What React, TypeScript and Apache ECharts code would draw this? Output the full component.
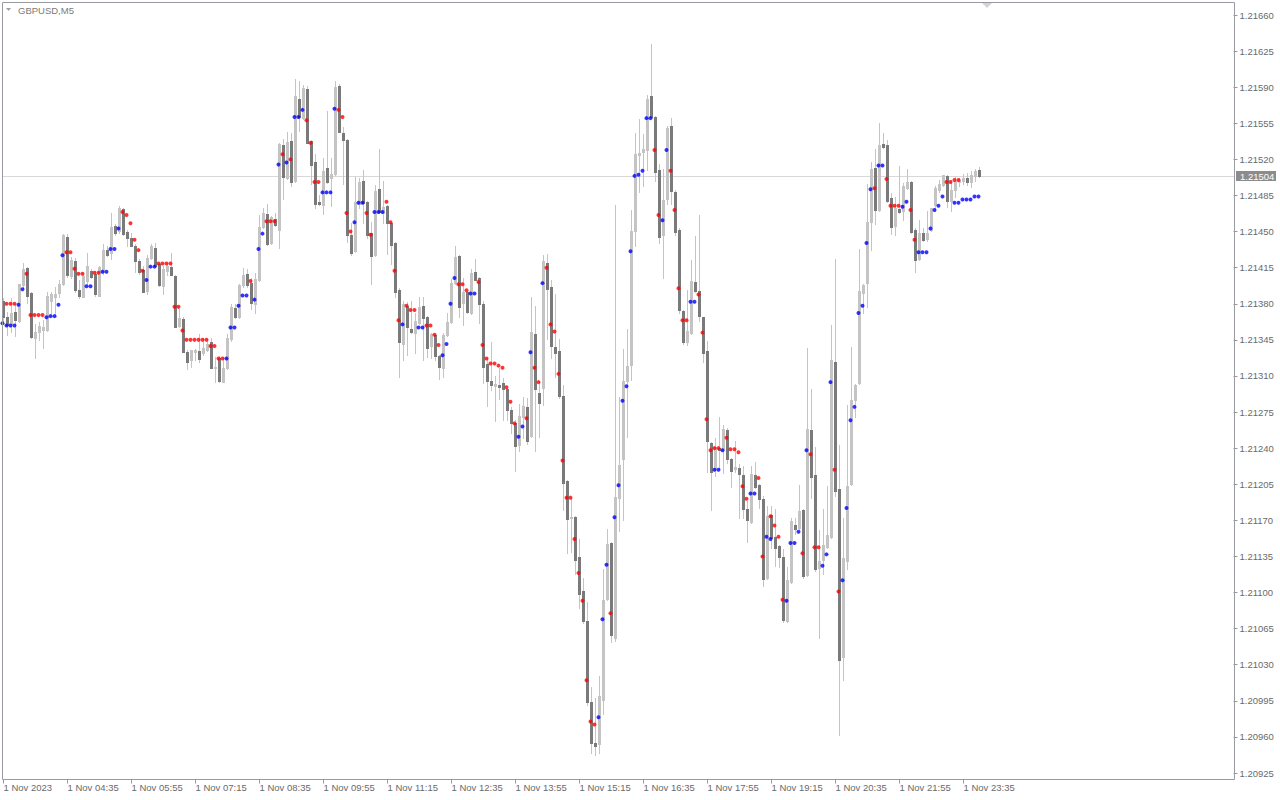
import React, { useEffect, useRef } from "react";
import * as echarts from "echarts";

const _ = null;
const symbolTitle = "GBPUSD,M5";
const timeLabels = ["1 Nov 2023", "1 Nov 04:35", "1 Nov 05:55", "1 Nov 07:15", "1 Nov 08:35", "1 Nov 09:55", "1 Nov 11:15", "1 Nov 12:35", "1 Nov 13:55", "1 Nov 15:15", "1 Nov 16:35", "1 Nov 17:55", "1 Nov 19:15", "1 Nov 20:35", "1 Nov 21:55", "1 Nov 23:35"];
const barsPerLabel = 16;
const priceMin = 1.20925;
const priceMax = 1.2166;
const priceStep = 0.00035;

const opens = [
1.21383,1.21367,1.21360,1.21372,1.21363,1.21398,1.21415,1.21390,1.21347,1.21353,
1.21355,1.21355,1.21383,1.21387,1.21390,1.21399,1.21445,1.21407,1.21421,1.21393,
1.21387,1.21402,1.21412,1.21409,1.21388,1.21411,1.21432,1.21429,1.21455,1.21451,
1.21472,1.21450,1.21444,1.21436,1.21421,1.21413,1.21392,1.21424,1.21434,1.21419,
1.21397,1.21412,1.21416,1.21407,1.21358,1.21365,1.21333,1.21325,1.21333,1.21334,
1.21332,1.21335,1.21343,1.21318,1.21327,1.21304,1.21318,1.21346,1.21376,1.21367,
1.21398,1.21409,1.21400,1.21380,1.21403,1.21454,1.21467,1.21439,1.21462,1.21452,
1.21534,1.21502,1.21538,1.21499,1.21579,1.21560,1.21588,1.21538,1.21517,1.21479,
1.21476,1.21512,1.21502,1.21506,1.21591,1.21546,1.21539,1.21447,1.21431,1.21477,
1.21499,1.21479,1.21449,1.21427,1.21491,1.21468,1.21475,1.21458,1.21439,1.21393,
1.21341,1.21378,1.21356,1.21352,1.21361,1.21378,1.21367,1.21339,1.21350,1.21329,
1.21318,1.21350,1.21362,1.21400,1.21426,1.21381,1.21391,1.21371,1.21411,1.21405,
1.21380,1.21322,1.21305,1.21300,1.21301,1.21303,1.21297,1.21277,1.21264,1.21243,
1.21270,1.21280,1.21252,1.21351,1.21293,1.21298,1.21420,1.21396,1.21338,1.21334,
1.21291,1.21208,1.21172,1.21173,1.21134,1.21101,1.21072,1.20994,1.20954,1.20953,
1.20996,1.21094,1.21148,1.21056,1.21192,1.21229,1.21305,1.21321,1.21451,1.21524,
1.21527,1.21529,1.21581,1.21561,1.21510,1.21447,1.21482,1.21552,1.21488,1.21452,
1.21373,1.21343,1.21352,1.21401,1.21392,1.21367,1.21334,1.21245,1.21220,1.21240,
1.21238,1.21258,1.21229,1.21220,1.21221,1.21214,1.21181,1.21168,1.21214,1.21204,
1.21191,1.21114,1.21175,1.21154,1.21145,1.21134,1.21072,1.21110,1.21165,1.21163,
1.21180,1.21117,1.21258,1.21214,1.21124,1.21132,1.21144,1.21154,1.21324,1.21200,
1.21037,1.21131,1.21205,1.21287,1.21303,1.21390,1.21400,1.21459,1.21512,1.21471,
1.21535,1.21534,1.21483,1.21455,1.21472,1.21470,1.21492,1.21498,1.21452,1.21423,
1.21449,1.21443,1.21452,1.21476,1.21490,1.21495,1.21504,1.21480,1.21490,1.21498,
1.21499,1.21502,1.21498,1.21504,1.21510];

const highs = [
1.21386,1.21372,1.21386,1.21380,1.21399,1.21420,1.21416,1.21391,1.21360,1.21362,
1.21364,1.21391,1.21391,1.21396,1.21403,1.21448,1.21448,1.21425,1.21424,1.21403,
1.21410,1.21429,1.21414,1.21412,1.21417,1.21438,1.21436,1.21468,1.21457,1.21475,
1.21473,1.21452,1.21449,1.21438,1.21423,1.21417,1.21427,1.21438,1.21439,1.21420,
1.21417,1.21420,1.21429,1.21408,1.21375,1.21367,1.21335,1.21335,1.21336,1.21351,
1.21347,1.21346,1.21347,1.21328,1.21329,1.21328,1.21351,1.21380,1.21380,1.21399,
1.21415,1.21414,1.21405,1.21410,1.21466,1.21473,1.21477,1.21465,1.21468,1.21536,
1.21540,1.21547,1.21546,1.21598,1.21596,1.21592,1.21591,1.21539,1.21525,1.21485,
1.21521,1.21567,1.21521,1.21596,1.21593,1.21551,1.21540,1.21458,1.21503,1.21502,
1.21510,1.21480,1.21459,1.21495,1.21530,1.21499,1.21476,1.21459,1.21440,1.21395,
1.21383,1.21382,1.21383,1.21371,1.21387,1.21387,1.21368,1.21352,1.21351,1.21330,
1.21352,1.21371,1.21404,1.21436,1.21427,1.21405,1.21392,1.21414,1.21423,1.21406,
1.21383,1.21327,1.21343,1.21310,1.21318,1.21308,1.21298,1.21280,1.21267,1.21283,
1.21290,1.21289,1.21387,1.21378,1.21305,1.21427,1.21428,1.21403,1.21389,1.21346,
1.21301,1.21209,1.21192,1.21174,1.21152,1.21114,1.21091,1.21008,1.20998,1.21019,
1.21123,1.21162,1.21149,1.21476,1.21290,1.21336,1.21356,1.21471,1.21546,1.21559,
1.21545,1.21582,1.21632,1.21562,1.21516,1.21511,1.21552,1.21560,1.21490,1.21453,
1.21374,1.21393,1.21422,1.21446,1.21466,1.21367,1.21344,1.21246,1.21250,1.21270,
1.21262,1.21260,1.21230,1.21247,1.21225,1.21223,1.21189,1.21223,1.21227,1.21205,
1.21194,1.21184,1.21184,1.21181,1.21146,1.21142,1.21125,1.21172,1.21172,1.21204,
1.21181,1.21337,1.21297,1.21241,1.21161,1.21181,1.21203,1.21359,1.21423,1.21243,
1.21172,1.21282,1.21338,1.21302,1.21433,1.21399,1.21496,1.21517,1.21530,1.21555,
1.21546,1.21539,1.21487,1.21484,1.21514,1.21497,1.21511,1.21499,1.21453,1.21461,
1.21453,1.21470,1.21473,1.21494,1.21500,1.21505,1.21505,1.21500,1.21503,1.21502,
1.21506,1.21507,1.21509,1.21511,1.21513];

const lows = [
1.21363,1.21350,1.21353,1.21349,1.21362,1.21395,1.21381,1.21347,1.21327,1.21345,
1.21337,1.21354,1.21368,1.21368,1.21387,1.21398,1.21406,1.21405,1.21391,1.21386,
1.21387,1.21399,1.21405,1.21388,1.21388,1.21409,1.21426,1.21423,1.21447,1.21449,
1.21447,1.21436,1.21436,1.21411,1.21409,1.21391,1.21389,1.21423,1.21416,1.21397,
1.21389,1.21408,1.21408,1.21357,1.21357,1.21333,1.21317,1.21319,1.21325,1.21324,
1.21330,1.21334,1.21318,1.21304,1.21304,1.21304,1.21317,1.21344,1.21366,1.21366,
1.21396,1.21396,1.21375,1.21371,1.21402,1.21453,1.21437,1.21438,1.21455,1.21434,
1.21482,1.21501,1.21494,1.21498,1.21548,1.21559,1.21536,1.21496,1.21473,1.21476,
1.21467,1.21497,1.21475,1.21505,1.21547,1.21496,1.21440,1.21427,1.21430,1.21473,
1.21458,1.21444,1.21399,1.21426,1.21468,1.21458,1.21428,1.21419,1.21387,1.21309,
1.21325,1.21330,1.21352,1.21332,1.21360,1.21325,1.21328,1.21327,1.21325,1.21307,
1.21309,1.21349,1.21361,1.21399,1.21367,1.21359,1.21371,1.21370,1.21403,1.21361,
1.21303,1.21281,1.21296,1.21266,1.21288,1.21267,1.21267,1.21255,1.21218,1.21237,
1.21250,1.21244,1.21251,1.21237,1.21251,1.21282,1.21346,1.21327,1.21309,1.21289,
1.21180,1.21138,1.21139,1.21118,1.21085,1.21070,1.20991,1.20944,1.20942,1.20944,
1.20982,1.21093,1.21052,1.21053,1.21160,1.21170,1.21251,1.21306,1.21436,1.21488,
1.21494,1.21510,1.21560,1.21499,1.21439,1.21405,1.21477,1.21477,1.21447,1.21371,
1.21341,1.21340,1.21351,1.21391,1.21363,1.21324,1.21217,1.21180,1.21213,1.21220,
1.21216,1.21226,1.21202,1.21217,1.21172,1.21172,1.21149,1.21167,1.21201,1.21182,
1.21106,1.21113,1.21143,1.21126,1.21125,1.21071,1.21071,1.21109,1.21157,1.21162,
1.21114,1.21116,1.21192,1.21121,1.21056,1.21118,1.21143,1.21153,1.21194,1.20962,
1.21015,1.21123,1.21204,1.21270,1.21302,1.21371,1.21377,1.21432,1.21457,1.21470,
1.21531,1.21479,1.21448,1.21447,1.21468,1.21461,1.21491,1.21449,1.21411,1.21422,
1.21441,1.21441,1.21451,1.21470,1.21488,1.21494,1.21474,1.21470,1.21484,1.21494,
1.21496,1.21495,1.21493,1.21499,1.21503];

const closes = [
1.21367,1.21359,1.21371,1.21364,1.21399,1.21414,1.21388,1.21348,1.21353,1.21358,
1.21357,1.21388,1.21389,1.21389,1.21399,1.21447,1.21408,1.21422,1.21393,1.21388,
1.21407,1.21417,1.21406,1.21389,1.21416,1.21432,1.21427,1.21454,1.21449,1.21473,
1.21448,1.21444,1.21436,1.21421,1.21411,1.21391,1.21424,1.21436,1.21417,1.21398,
1.21414,1.21417,1.21408,1.21357,1.21366,1.21333,1.21324,1.21335,1.21335,1.21326,
1.21337,1.21341,1.21318,1.21319,1.21305,1.21318,1.21347,1.21377,1.21367,1.21398,
1.21408,1.21398,1.21381,1.21404,1.21454,1.21468,1.21438,1.21464,1.21456,1.21535,
1.21503,1.21537,1.21498,1.21581,1.21561,1.21589,1.21536,1.21515,1.21477,1.21477,
1.21509,1.21498,1.21506,1.21590,1.21547,1.21539,1.21447,1.21429,1.21479,1.21498,
1.21478,1.21447,1.21426,1.21489,1.21469,1.21474,1.21458,1.21437,1.21391,1.21343,
1.21380,1.21357,1.21353,1.21363,1.21377,1.21366,1.21337,1.21351,1.21329,1.21319,
1.21350,1.21362,1.21400,1.21425,1.21377,1.21391,1.21372,1.21410,1.21403,1.21380,
1.21319,1.21305,1.21301,1.21302,1.21299,1.21297,1.21277,1.21264,1.21242,1.21271,
1.21281,1.21247,1.21353,1.21297,1.21284,1.21421,1.21394,1.21339,1.21332,1.21291,
1.21206,1.21171,1.21173,1.21132,1.21099,1.21072,1.20994,1.20954,1.20951,1.21000,
1.21093,1.21147,1.21059,1.21193,1.21224,1.21305,1.21320,1.21451,1.21525,1.21526,
1.21530,1.21579,1.21561,1.21508,1.21445,1.21481,1.21550,1.21489,1.21450,1.21374,
1.21343,1.21354,1.21402,1.21392,1.21368,1.21332,1.21247,1.21217,1.21241,1.21238,
1.21259,1.21229,1.21218,1.21222,1.21215,1.21181,1.21170,1.21215,1.21202,1.21191,
1.21113,1.21174,1.21153,1.21143,1.21134,1.21073,1.21112,1.21169,1.21162,1.21179,
1.21116,1.21259,1.21212,1.21123,1.21131,1.21146,1.21156,1.21325,1.21198,1.21035,
1.21133,1.21203,1.21287,1.21301,1.21392,1.21398,1.21459,1.21511,1.21471,1.21534,
1.21532,1.21480,1.21454,1.21473,1.21469,1.21494,1.21498,1.21450,1.21422,1.21449,
1.21442,1.21449,1.21473,1.21492,1.21496,1.21505,1.21480,1.21490,1.21499,1.21500,
1.21502,1.21498,1.21505,1.21509,1.21504];

const redDots = [
_,1.21380,1.21380,1.21380,_,_,1.21409,1.21369,1.21369,1.21369,
1.21369,_,_,_,_,_,1.21430,1.21430,1.21414,1.21409,
1.21409,_,_,1.21410,1.21410,_,_,_,_,_,
1.21469,1.21466,1.21458,1.21442,1.21432,1.21412,_,_,_,1.21419,
1.21419,1.21419,1.21419,1.21377,1.21377,1.21354,1.21345,1.21345,1.21345,1.21345,
1.21345,1.21345,1.21339,1.21339,1.21327,1.21327,_,_,_,_,
_,_,1.21402,_,_,_,1.21460,1.21460,1.21460,_,
1.21525,_,1.21520,_,_,_,1.21558,1.21536,1.21498,1.21498,
_,_,_,_,1.21568,1.21561,1.21468,1.21450,_,_,
_,1.21468,1.21447,_,_,_,1.21479,1.21459,1.21412,1.21364,
_,1.21378,1.21374,1.21374,_,_,1.21359,1.21359,1.21350,1.21340,
_,_,_,_,1.21399,1.21399,1.21393,_,_,1.21401,
1.21340,1.21327,1.21322,1.21322,1.21320,1.21318,1.21299,1.21285,1.21264,_,
_,1.21269,_,1.21318,1.21304,_,1.21415,1.21360,1.21353,1.21312,
1.21228,1.21192,1.21192,1.21152,1.21119,1.21092,1.21015,1.20975,1.20972,_,
_,_,1.21080,_,_,_,_,_,_,_,
_,_,_,1.21529,1.21466,_,_,1.21509,1.21471,1.21395,
1.21364,1.21364,_,_,1.21389,1.21352,1.21268,1.21238,1.21240,1.21240,
_,1.21250,1.21239,1.21239,1.21236,1.21203,1.21191,_,_,1.21211,
1.21135,_,1.21174,1.21165,1.21154,1.21093,_,_,_,_,
1.21138,_,1.21234,1.21144,1.21144,_,_,_,1.21219,1.21101,
_,_,_,_,_,_,_,_,1.21492,_,
_,1.21501,1.21475,1.21475,1.21475,_,_,1.21471,1.21442,_,
_,_,_,_,_,_,1.21498,1.21498,1.21500,1.21500,
_,_,_,_,_];

const blueDots = [
1.21361,1.21359,1.21359,1.21359,1.21379,1.21394,_,_,_,_,
_,1.21367,1.21368,1.21368,1.21379,1.21427,_,_,_,_,
_,1.21397,1.21397,_,_,1.21411,1.21411,1.21433,1.21433,1.21453,
_,_,_,_,_,_,1.21403,1.21416,1.21416,_,
_,_,_,_,_,_,_,_,_,_,
_,_,_,_,_,_,1.21327,1.21357,1.21357,1.21378,
1.21388,1.21388,_,1.21384,1.21433,1.21448,_,_,_,1.21515,
_,1.21517,_,1.21561,1.21561,1.21568,_,_,_,_,
1.21488,1.21488,1.21488,1.21569,_,_,_,_,1.21459,1.21478,
1.21478,_,_,1.21469,1.21469,1.21469,_,_,_,_,
1.21360,_,_,_,1.21357,1.21357,_,_,_,_,
1.21330,1.21341,1.21380,1.21405,_,_,_,1.21390,1.21390,_,
_,_,_,_,_,_,_,_,_,1.21251,
1.21261,_,1.21333,_,_,1.21400,_,_,_,_,
_,_,_,_,_,_,_,_,_,1.20979,
1.21074,1.21127,_,1.21173,1.21204,1.21286,1.21300,1.21431,1.21504,1.21505,
1.21509,1.21560,1.21560,_,_,1.21461,1.21529,_,_,_,
_,_,1.21382,1.21382,_,_,_,_,1.21219,1.21219,
1.21238,_,_,_,_,_,_,1.21196,1.21196,_,
_,1.21154,1.21152,_,_,_,1.21092,1.21148,1.21148,1.21159,
_,1.21238,_,_,_,1.21126,1.21137,1.21304,_,_,
1.21112,1.21182,1.21267,1.21280,1.21371,1.21378,1.21439,1.21491,_,1.21514,
1.21514,_,_,_,_,1.21474,1.21479,_,_,1.21430,
1.21430,1.21430,1.21453,1.21471,1.21475,1.21484,_,_,1.21478,1.21478,
1.21481,1.21481,1.21481,1.21484,1.21484];

const FONT = "'Liberation Sans', Arial, sans-serif";
const TEXT_COLOR = "#6a6a6a";

export default function App() {
  const ref = useRef<HTMLDivElement>(null);

  useEffect(() => {
    if (!ref.current) return;
    const chart = echarts.init(ref.current, null, { renderer: "svg" });
    const n = opens.length;
    const slots = 308;
    const categories = Array.from({ length: slots }, (_v, i) =>
      i % barsPerLabel === 0 && i / barsPerLabel < timeLabels.length ? timeLabels[i / barsPerLabel] : "b" + i
    );
    const isLabel = (idx: number) => idx % barsPerLabel === 0 && idx / barsPerLabel < timeLabels.length;
    const candleData = opens.map((o, i) => [i, o, highs[i], lows[i], closes[i]]);
    const redData = redDots.map((v, i) => (v == null ? null : [i, v])).filter(Boolean);
    const blueData = blueDots.map((v, i) => (v == null ? null : [i, v])).filter(Boolean);
    const last = closes[n - 1];

    const staticGraphic: any[] = [
      {
        type: "rect",
        id: "frame",
        silent: true,
        z: 100,
        shape: { x: 2.5, y: 2.5, width: 1232, height: 777 },
        style: { fill: "none", stroke: "#9a9aa2", lineWidth: 1 },
      },
      {
        type: "polygon",
        id: "tri1",
        silent: true,
        z: 100,
        shape: { points: [[6, 8], [11, 8], [8.5, 11]] },
        style: { fill: "#a0a0a0" },
      },
      {
        type: "text",
        id: "title",
        silent: true,
        z: 100,
        x: 18,
        y: 10,
        style: {
          text: symbolTitle,
          fontSize: 9.5,
          fontFamily: FONT,
          fill: "#7a7a7a",
          verticalAlign: "middle",
        },
      },
      {
        type: "polygon",
        id: "tri2",
        silent: true,
        z: 100,
        shape: { points: [[982, 3], [992, 3], [987, 8]] },
        style: { fill: "#d4d4d4" },
      },
    ];

    chart.setOption({
      animation: false,
      backgroundColor: "#ffffff",
      grid: { left: 1.5, right: 46.5, top: 15, bottom: 27, containLabel: false },
      xAxis: {
        type: "category",
        data: categories,
        boundaryGap: true,
        offset: 6.5,
        axisLine: { show: false },
        axisTick: {
          show: true,
          alignWithLabel: true,
          interval: (idx: number) => isLabel(idx),
          length: 4,
          lineStyle: { color: "#999999" },
        },
        axisLabel: {
          interval: (idx: number) => isLabel(idx),
          align: "left",
          margin: 3,
          fontSize: 9.5,
          fontFamily: FONT,
          color: TEXT_COLOR,
        },
        splitLine: { show: false },
      },
      yAxis: {
        type: "value",
        position: "right",
        min: priceMin,
        max: priceMax,
        interval: priceStep,
        axisLine: { show: false },
        axisTick: { show: true, length: 4, lineStyle: { color: "#999999" } },
        axisLabel: {
          margin: 6,
          fontSize: 9.5,
          fontFamily: FONT,
          color: TEXT_COLOR,
          showMinLabel: true,
          showMaxLabel: true,
          formatter: (v: number) => v.toFixed(5),
        },
        splitLine: { show: false },
      },
      series: [
        {
          type: "custom",
          z: 2,
          data: candleData,
          encode: { x: 0, y: [1, 2, 3, 4] },
          renderItem: (_params: any, api: any) => {
            const i = api.value(0);
            const o = api.value(1);
            const h = api.value(2);
            const l = api.value(3);
            const c = api.value(4);
            const po = api.coord([i, o]);
            const pc = api.coord([i, c]);
            const ph = api.coord([i, h]);
            const pl = api.coord([i, l]);
            const xc = Math.floor(po[0]) + 0.5;
            const top = Math.round(Math.min(po[1], pc[1]));
            const bot = Math.round(Math.max(po[1], pc[1]));
            const bull = c >= o;
            return {
              type: "group",
              children: [
                {
                  type: "line",
                  shape: { x1: xc, y1: Math.round(ph[1]), x2: xc, y2: Math.round(pl[1]) + 1 },
                  style: { stroke: "#c4c4c4", lineWidth: 1 },
                },
                {
                  type: "rect",
                  shape: { x: xc - 1.5, y: top, width: 3, height: Math.max(1, bot - top + 1) },
                  style: { fill: bull ? "#c4c4c4" : "#7a7a7a" },
                },
              ],
            };
          },
        },
        {
          type: "scatter",
          z: 3,
          data: redData,
          symbol: "circle",
          symbolSize: 4,
          symbolOffset: [-1, 0],
          itemStyle: { color: "#ff0000" },
          silent: true,
        },
        {
          type: "scatter",
          z: 3,
          data: blueData,
          symbol: "circle",
          symbolSize: 4,
          symbolOffset: [-1, 0],
          itemStyle: { color: "#0000ff" },
          silent: true,
        },
      ],
      graphic: staticGraphic,
    });

    const yPix = chart.convertToPixel({ yAxisIndex: 0 }, last) as number;
    const yLine = Math.round(yPix) + 0.5;
    chart.setOption({
      graphic: [
        ...staticGraphic,
        {
          type: "line",
          id: "priceLine",
          silent: true,
          z: 0,
          zlevel: 0,
          shape: { x1: 3, y1: yLine, x2: 1234, y2: yLine },
          style: { stroke: "#d8d8d8", lineWidth: 1 },
        },
        {
          type: "rect",
          id: "priceBox",
          silent: true,
          z: 100,
          shape: { x: 1236, y: Math.round(yPix) - 5, width: 40, height: 10 },
          style: { fill: "#8c8c8c" },
        },
        {
          type: "text",
          id: "priceText",
          silent: true,
          z: 101,
          x: 1240,
          y: Math.round(yPix),
          style: {
            text: last.toFixed(5),
            fontSize: 9.5,
            fontFamily: FONT,
            fill: "#ffffff",
            verticalAlign: "middle",
          },
        },
      ],
    });

    return () => chart.dispose();
  }, []);

  return (
    <div
      ref={ref}
      style={{ position: "fixed", left: 0, top: 0, width: 1280, height: 800, background: "#ffffff" }}
    />
  );
}
